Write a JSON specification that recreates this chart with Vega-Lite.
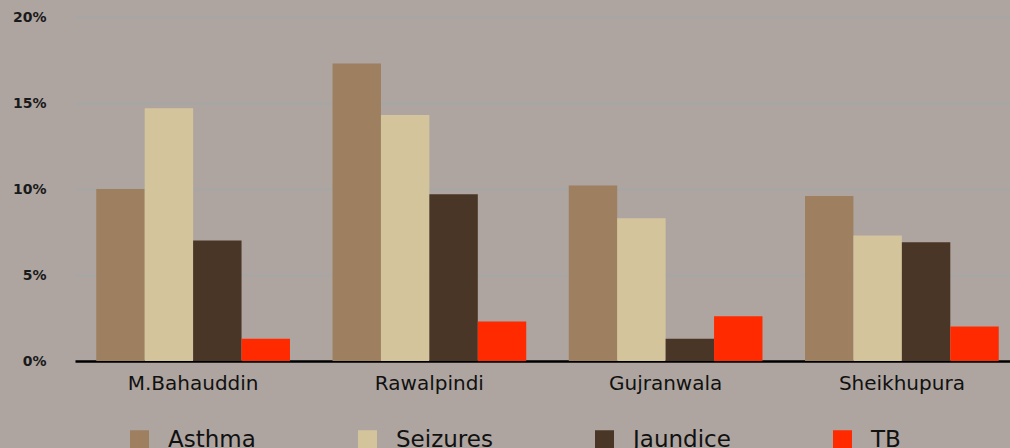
{
  "$schema": "https://vega.github.io/schema/vega-lite/v6.json",
  "autosize": {"type": "none"},
  "padding": {"left": 75, "top": 17, "right": 0, "bottom": 87},
  "width": 945,
  "height": 344,
  "background": "#aea5a0",
  "config": {
    "view": {"stroke": null},
    "font": "DejaVu Sans"
  },
  "data": {
    "values": [
      {"district": "M.Bahauddin", "disease": "Asthma", "value": 0.100},
      {"district": "M.Bahauddin", "disease": "Seizures", "value": 0.147},
      {"district": "M.Bahauddin", "disease": "Jaundice", "value": 0.070},
      {"district": "M.Bahauddin", "disease": "TB", "value": 0.013},
      {"district": "Rawalpindi", "disease": "Asthma", "value": 0.173},
      {"district": "Rawalpindi", "disease": "Seizures", "value": 0.143},
      {"district": "Rawalpindi", "disease": "Jaundice", "value": 0.097},
      {"district": "Rawalpindi", "disease": "TB", "value": 0.023},
      {"district": "Gujranwala", "disease": "Asthma", "value": 0.102},
      {"district": "Gujranwala", "disease": "Seizures", "value": 0.083},
      {"district": "Gujranwala", "disease": "Jaundice", "value": 0.013},
      {"district": "Gujranwala", "disease": "TB", "value": 0.026},
      {"district": "Sheikhupura", "disease": "Asthma", "value": 0.096},
      {"district": "Sheikhupura", "disease": "Seizures", "value": 0.073},
      {"district": "Sheikhupura", "disease": "Jaundice", "value": 0.069},
      {"district": "Sheikhupura", "disease": "TB", "value": 0.020}
    ]
  },
  "mark": {"type": "bar"},
  "encoding": {
    "x": {
      "field": "district",
      "type": "nominal",
      "sort": null,
      "scale": {"paddingInner": 0.18, "paddingOuter": 0.09},
      "axis": {
        "title": null,
        "labelAngle": 0,
        "ticks": false,
        "domainColor": "#000000",
        "domainWidth": 2.5,
        "labelFont": "DejaVu Sans",
        "labelFontSize": 20,
        "labelColor": "#111111",
        "labelPadding": 12
      }
    },
    "xOffset": {
      "field": "disease",
      "type": "nominal",
      "sort": ["Asthma", "Seizures", "Jaundice", "TB"],
      "scale": {"paddingInner": 0, "paddingOuter": 0}
    },
    "y": {
      "field": "value",
      "type": "quantitative",
      "scale": {"domain": [0, 0.2], "nice": false},
      "axis": {
        "title": null,
        "values": [0, 0.05, 0.1, 0.15, 0.2],
        "format": ".0%",
        "domain": false,
        "ticks": false,
        "labelPadding": 29,
        "labelFont": "DejaVu Sans",
        "labelFontSize": 14,
        "labelFontWeight": "bold",
        "labelColor": "#1a1a1a",
        "gridColor": "#a4a7a7",
        "gridWidth": 1.5
      }
    },
    "color": {
      "field": "disease",
      "type": "nominal",
      "sort": ["Asthma", "Seizures", "Jaundice", "TB"],
      "scale": {
        "domain": ["Asthma", "Seizures", "Jaundice", "TB"],
        "range": ["#9e7f60", "#d3c49c", "#4a3626", "#ff2a00"]
      },
      "legend": {
        "title": null,
        "orient": "none",
        "legendX": 53,
        "legendY": 411,
        "direction": "horizontal",
        "columns": 4,
        "columnPadding": 100,
        "padding": 0,
        "symbolType": "square",
        "symbolSize": 361,
        "symbolStrokeWidth": 0,
        "symbolOpacity": 1,
        "labelOffset": 17,
        "labelFont": "DejaVu Sans",
        "labelFontSize": 23,
        "labelColor": "#111111",
        "labelLimit": 300
      }
    }
  }
}
